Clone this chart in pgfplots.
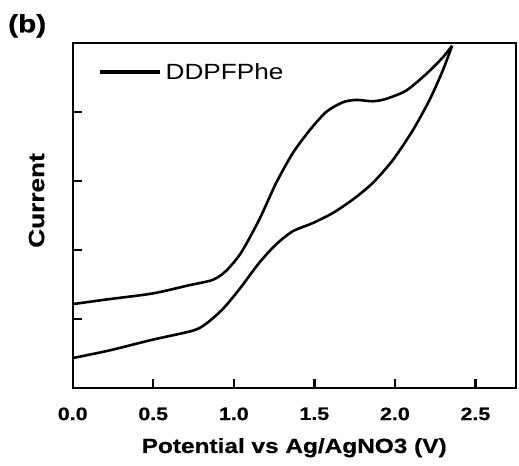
\documentclass[border=0pt]{standalone}
\usepackage{pgfplots}
\pgfplotsset{compat=1.18}
\usepackage{fontspec}
\setmainfont{Liberation Sans}[FakeStretch=1.19, BoldFeatures={FakeBold=0.6}]
\begin{document}
\begin{tikzpicture}
\begin{axis}[
  at={(72.7bp,-43bp)}, anchor=north west,
  scale only axis, width=443bp, height=345bp,
  xmin=0, xmax=2.75, ymin=0, ymax=5,
  axis line style={line width=2.4bp},
  every tick/.style={line width=2.4bp, black},
  major tick length=9bp,
  tick align=inside,
  xtick={0,0.5,1,1.5,2,2.5},
  ytick={1,2,3,4},
  yticklabels={},
  xtick pos=bottom, ytick pos=left,
  /pgf/number format/assume math mode=true,
  /pgf/number format/fixed, /pgf/number format/fixed zerofill,
  /pgf/number format/precision=1,
  xticklabel style={font=\fontsize{18bp}{21bp}\selectfont\bfseries, yshift=-16bp},
  xlabel={Potential vs Ag/AgNO3 (V)},
  xlabel style={font=\fontsize{20.5bp}{24bp}\selectfont\bfseries, yshift=-11bp},
  ylabel={Current},
  ylabel style={font=\fontsize{22bp}{25bp}\selectfont\bfseries, yshift=18bp, xshift=15bp},
  legend style={draw=none, fill=none, at={(0.062,0.916)}, anchor=west,
    font=\fontsize{22bp}{25bp}\selectfont, inner sep=0pt,
    /tikz/every even column/.append style={column sep=5bp}},
  legend cell align=left,
  legend image code/.code={\fill[black] (0bp,-1.15bp) rectangle (57bp,1.15bp); \path[draw=none, fill=none] (0bp,0bp) -- (62bp,0bp);},
]
\addplot[black, line width=2.6bp, smooth, tension=0.45] coordinates {
(0,0.434) (0.227,0.544) (0.496,0.70) (0.744,0.83) (0.827,0.93) (0.93,1.14)
(1.034,1.43) (1.158,1.815) (1.262,2.08) (1.365,2.27) (1.49,2.39) (1.614,2.535)
(1.738,2.73) (1.862,2.97) (1.986,3.30) (2.11,3.73) (2.214,4.17) (2.297,4.60) (2.355,4.96)
};
\addlegendentry{DDPFPhe}
\addplot[black, line width=2.6bp, smooth, tension=0.45, forget plot] coordinates {
(2.355,4.96) (2.297,4.79) (2.194,4.55) (2.07,4.31) (1.945,4.19) (1.862,4.156)
(1.759,4.175) (1.676,4.14) (1.573,4.0) (1.469,3.73) (1.365,3.40) (1.262,2.967)
(1.158,2.44) (1.045,1.96) (0.951,1.695) (0.868,1.566) (0.724,1.49) (0.496,1.37)
(0.227,1.288) (0,1.216)
};
\end{axis}
\node[anchor=north west, inner sep=0pt, font=\fontsize{25bp}{28bp}\selectfont\bfseries] at (8bp,-14bp) {(b)};
\pgfresetboundingbox
\path (0,0) rectangle (519bp,-466bp);
\end{tikzpicture}
\end{document}
